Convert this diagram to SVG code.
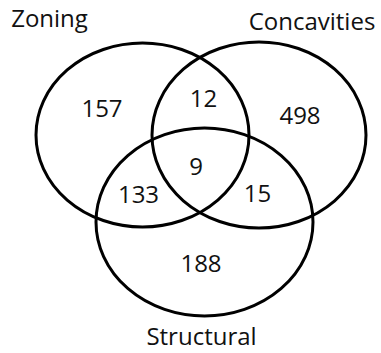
<svg xmlns="http://www.w3.org/2000/svg" width="381" height="353" viewBox="0 0 381 353">
<style>
.set{fill:none;stroke:#000;stroke-width:3}
text{font-family:"Open Sans","Liberation Sans",sans-serif;font-size:24px;fill:#111;text-anchor:middle}
</style>
<rect width="381" height="353" fill="#fff"/>
<g id="zoning"><ellipse class="set" cx="142.5" cy="135" rx="106.5" ry="92"/><text x="49.5" y="27">Zoning</text></g>
<g id="concavities"><ellipse class="set" cx="259" cy="135" rx="107" ry="93"/><text x="312" y="30">Concavities</text></g>
<g id="structural"><ellipse class="set" cx="204.5" cy="222" rx="108.5" ry="94"/><text x="201.5" y="345">Structural</text></g>
<g id="counts">
<text x="102" y="117">157</text>
<text x="203.5" y="107">12</text>
<text x="300" y="124">498</text>
<text x="196" y="175">9</text>
<text x="138.5" y="203">133</text>
<text x="257.5" y="202">15</text>
<text x="201" y="272">188</text>
</g>
<g id="connectors"/>
</svg>
